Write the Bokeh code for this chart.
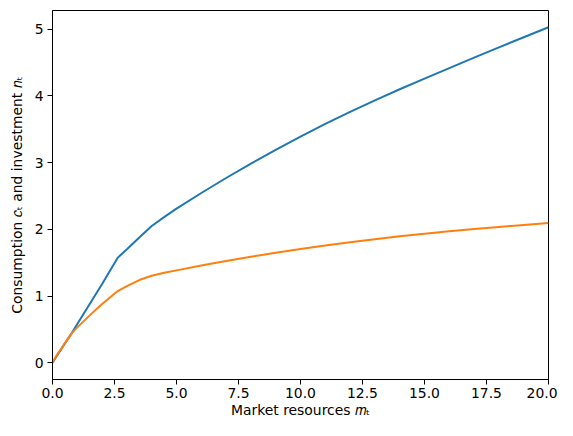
from bokeh.plotting import figure
from bokeh.models import Range1d, FixedTicker, CustomJSTickFormatter
from bokeh.embed import file_html
from bokeh.resources import INLINE

# market resources grid and the two policy functions
m_grid = [0.0, 0.2, 0.5, 0.77, 1.0, 1.5, 2.0, 2.63, 3.0, 3.5, 4.0, 4.5, 5.0, 6.0,
          7.0, 8.0, 9.0, 10.0, 11.0, 12.0, 13.0, 14.0, 15.0, 16.0, 17.0, 18.0,
          19.0, 20.0]
consumption = [0.0, 0.115, 0.29, 0.44, 0.58, 0.88, 1.18, 1.575, 1.703, 1.877,
               2.05, 2.183, 2.31, 2.545, 2.77, 2.985, 3.192, 3.39, 3.58, 3.761,
               3.935, 4.101, 4.26, 4.418, 4.574, 4.728, 4.88, 5.03]
investment = [0.0, 0.13, 0.29, 0.44, 0.53, 0.71, 0.88, 1.075, 1.15, 1.24, 1.305,
              1.348, 1.385, 1.457, 1.525, 1.589, 1.649, 1.706, 1.759, 1.808,
              1.853, 1.895, 1.934, 1.970, 2.004, 2.036, 2.066, 2.094]

x_ticks = [0, 2.5, 5, 7.5, 10, 12.5, 15, 17.5, 20]
y_ticks = [0, 1, 2, 3, 4, 5]

FONT = "DejaVu Sans"

p = figure(width=557, height=420, output_backend="svg", toolbar_location=None,
           x_range=Range1d(0, 20), y_range=Range1d(-0.2515, 5.2815),
           min_border_left=52, min_border_right=9, min_border_top=10,
           min_border_bottom=41)

p.line(m_grid, consumption, line_color="#1f77b4", line_width=2)
p.line(m_grid, investment, line_color="#ff7f0e", line_width=2)

p.grid.visible = False
p.outline_line_color = "black"
p.outline_line_width = 1
p.outline_line_alpha = 1

p.xaxis.ticker = FixedTicker(ticks=x_ticks)
p.xaxis.formatter = CustomJSTickFormatter(code="return tick.toFixed(1);")
p.yaxis.ticker = FixedTicker(ticks=y_ticks)

p.xaxis.axis_label = "Market resources 𝑚ₜ"
p.yaxis.axis_label = "Consumption 𝑐ₜ and investment 𝑛ₜ"

for ax in (p.xaxis[0], p.yaxis[0]):
    ax.axis_line_color = "black"
    ax.major_tick_line_color = "black"
    ax.minor_tick_line_color = None
    ax.major_tick_in = 0
    ax.major_tick_out = 5
    ax.major_label_text_font = FONT
    ax.major_label_text_font_size = "13.9px"
    ax.major_label_text_color = "black"
    ax.axis_label_text_font = FONT
    ax.axis_label_text_font_size = "13.9px"
    ax.axis_label_text_font_style = "normal"
    ax.axis_label_text_color = "black"

p.xaxis.major_label_standoff = 3
p.xaxis.axis_label_standoff = 1
p.yaxis.major_label_standoff = 4
p.yaxis.axis_label_standoff = 7

open("out.html", "w").write(file_html(p, INLINE))
